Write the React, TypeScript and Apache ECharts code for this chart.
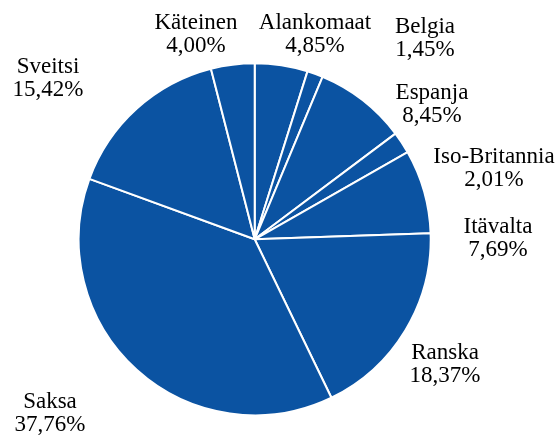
import React, { useEffect, useRef } from "react";
import * as echarts from "echarts";

const categories = [
  "Alankomaat",
  "Belgia",
  "Espanja",
  "Iso-Britannia",
  "Itävalta",
  "Ranska",
  "Saksa",
  "Sveitsi",
  "Käteinen",
];
const shares = [4.85, 1.45, 8.45, 2.01, 7.69, 18.37, 37.76, 15.42, 4.0];

// label block centres (layout only)
const labelCenters: [number, number][] = [
  [315, 33],
  [425, 37],
  [432, 103],
  [494, 167],
  [498, 237],
  [445, 363],
  [50, 412],
  [48, 77],
  [196, 33],
];

export default function App() {
  const ref = useRef<HTMLDivElement>(null);
  useEffect(() => {
    if (!ref.current) return;
    const chart = echarts.init(ref.current, undefined, { renderer: "svg" });
    chart.setOption({
      animation: false,
      series: [
        {
          type: "pie",
          center: [254.7, 239.3],
          radius: [0, 176],
          startAngle: 90,
          itemStyle: { color: "#0B53A2", borderColor: "#ffffff", borderWidth: 2 },
          label: {
            show: true,
            position: "outside",
            fontFamily: "Liberation Serif",
            fontSize: 23,
            color: "#000",
            overflow: "none",
            formatter: (p: any) =>
              p.name + "\n" + Number(p.value).toFixed(2).replace(".", ",") + "%",
          },
          labelLine: { show: false },
          labelLayout: (p: any) => ({
            x: labelCenters[p.dataIndex][0],
            y: labelCenters[p.dataIndex][1],
            align: "center",
            verticalAlign: "middle",
          }),
          data: categories.map((n, i) => ({ name: n, value: shares[i] })),
        },
      ],
    });
    return () => chart.dispose();
  }, []);
  return (
    <div
      ref={ref}
      style={{ position: "fixed", left: 0, top: 0, width: 560, height: 439 }}
    />
  );
}
